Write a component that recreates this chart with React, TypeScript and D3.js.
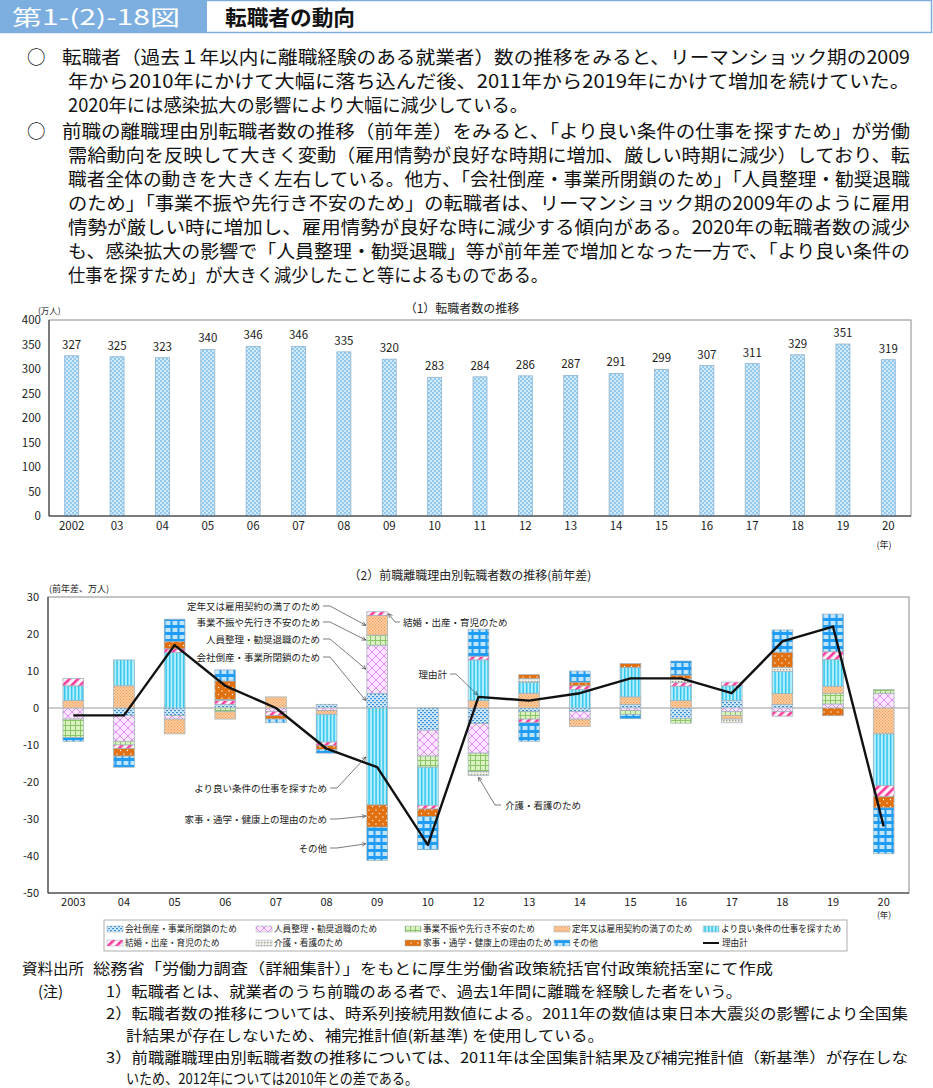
import * as d3 from 'd3';

// (1) 転職者数の推移
const years1 = ['2002', '03', '04', '05', '06', '07', '08', '09', '10', '11', '12', '13', '14', '15', '16', '17', '18', '19', '20'];
const changers = [327, 325, 323, 340, 346, 346, 335, 320, 283, 284, 286, 287, 291, 299, 307, 311, 329, 351, 319];
const yTicks1 = [0, 50, 100, 150, 200, 250, 300, 350, 400];

// (2) 前職離職理由別転職者数の推移（前年差）
const years2 = ['2003', '04', '05', '06', '07', '08', '09', '10', '12', '13', '14', '15', '16', '17', '18', '19', '20'];
const kaisha = [0, -2, -2, 1, 0, 1, 4, -6, -4.2, -1, -1, 1, -2.8, 2, 1, 0, 0];
const jinin = [-3, -7, -1, 0, -1, -0.7, 13, -7, -8, 0, -2, -0.7, 0, -1, -1, 1.1, 4];
const fushin = [-5, -1, 0, -1, 0, 0, 2.7, -3, -5, -2, 0, -1, -1.3, -1, 0, 2.9, 1];
const teinen = [2, 6, -4, -2, 3, -1, 5.3, 0, 2, 4, -2, 2, 2, -1, 2.9, 1.9, -7];
const yoriyoi = [4, 7, 15, 0, 0, -7.5, -26.2, -10.3, 11, 3, 5, 8, 3.9, 4, 6, 7.2, -14];
const kekkon = [2, -1, 1, 1, -1, -1, 1, -1, 1, -1, 1, 0, 1, 1, -1.2, 2.1, -3];
const kaigo = [0, 0, 0, 0.3, 0, 0, 0, 0, -1, 1, 0, 0, 1, -1, 1.1, 0, 0];
const kaji = [0, -2, 2, 5, -1, -1, -6, -2, 0, 1, 1, 1, 1, 0, 4.1, -2.1, -3];
const sonota = [-1, -3, 6, 3, -1, -1, -9, -9, 7.3, -5, 3, -1.2, 3.8, 0, 6, 10.2, -12.4];
const reasonTotal = [-2, -2, 17, 6, 0, -11, -16, -37, 3, 2, 4, 8, 8, 4, 18, 22, -32];
const yTicks2 = [30, 20, 10, 0, -10, -20, -30, -40, -50];

const seriesNames = [
  '会社倒産・事業所閉鎖のため',
  '人員整理・勧奨退職のため',
  '事業不振や先行き不安のため',
  '定年又は雇用契約の満了のため',
  'より良い条件の仕事を探すため',
  '結婚・出産・育児のため',
  '介護・看護のため',
  '家事・通学・健康上の理由のため',
  'その他',
];
const seriesValues = [kaisha, jinin, fushin, teinen, yoriyoi, kekkon, kaigo, kaji, sonota];

const FONT = "'Noto Sans CJK JP', 'Noto Sans', sans-serif";

const paraLines = [
  { mark: true, x: 62, len: 848, t: '転職者（過去１年以内に離職経験のある就業者）数の推移をみると、リーマンショック期の2009' },
  { mark: false, x: 68, len: 842, t: '年から2010年にかけて大幅に落ち込んだ後、2011年から2019年にかけて増加を続けていた。' },
  { mark: false, x: 68, len: 460, t: '2020年には感染拡大の影響により大幅に減少している。' },
  { mark: true, x: 62, len: 848, t: '前職の離職理由別転職者数の推移（前年差）をみると、「より良い条件の仕事を探すため」が労働' },
  { mark: false, x: 68, len: 842, t: '需給動向を反映して大きく変動（雇用情勢が良好な時期に増加、厳しい時期に減少）しており、転' },
  { mark: false, x: 68, len: 842, t: '職者全体の動きを大きく左右している。他方、「会社倒産・事業所閉鎖のため」「人員整理・勧奨退職' },
  { mark: false, x: 68, len: 842, t: 'のため」「事業不振や先行き不安のため」の転職者は、リーマンショック期の2009年のように雇用' },
  { mark: false, x: 68, len: 842, t: '情勢が厳しい時に増加し、雇用情勢が良好な時に減少する傾向がある。2020年の転職者数の減少' },
  { mark: false, x: 68, len: 842, t: 'も、感染拡大の影響で「人員整理・勧奨退職」等が前年差で増加となった一方で、「より良い条件の' },
  { mark: false, x: 68, len: 480, t: '仕事を探すため」が大きく減少したこと等によるものである。' },
];
const paraBase = [64, 88, 112, 138, 162, 186, 210, 234, 258, 282];

function Patterns() {
  return (
    <defs>
      <pattern id="pTop" width="4" height="4" patternUnits="userSpaceOnUse">
        <rect width="4" height="4" fill="#d3ebfb" />
        <path d="M0 1 L1 0 L2 1 L1 2 Z M2 3 L3 2 L4 3 L3 4 Z" fill="#4ea6e4" />
      </pattern>
      <pattern id="p0" width="4" height="4" patternUnits="userSpaceOnUse">
        <rect width="4" height="4" fill="#cfe9fb" />
        <rect x="0" y="0" width="2" height="1.2" fill="#3a8fd8" />
        <rect x="2" y="2" width="2" height="1.2" fill="#3a8fd8" />
      </pattern>
      <pattern id="p1" width="8" height="8" patternUnits="userSpaceOnUse">
        <rect width="8" height="8" fill="#fbe4fd" />
        <path d="M0 0 L8 8 M8 0 L0 8" stroke="#d27be0" strokeWidth="0.8" />
      </pattern>
      <pattern id="p2" width="5" height="5" patternUnits="userSpaceOnUse">
        <rect width="5" height="5" fill="#daf2bf" />
        <path d="M0 0.5 H5 M0.5 0 V5" stroke="#8cc46a" strokeWidth="1" />
      </pattern>
      <pattern id="p3" width="3" height="3" patternUnits="userSpaceOnUse">
        <rect width="3" height="3" fill="#fdd1a8" />
        <rect x="0" y="0" width="1.2" height="1.2" fill="#f19a52" />
        <rect x="1.5" y="1.5" width="1.2" height="1.2" fill="#f19a52" />
      </pattern>
      <pattern id="p4" width="3.5" height="4" patternUnits="userSpaceOnUse">
        <rect width="3.5" height="4" fill="#b6f0ff" />
        <rect x="1" y="0" width="1.3" height="4" fill="#19bde9" />
      </pattern>
      <pattern id="p5" width="6" height="6" patternUnits="userSpaceOnUse" patternTransform="rotate(45)">
        <rect width="6" height="6" fill="#fff3f9" />
        <rect x="0" y="0" width="2.6" height="6" fill="#ff3a9e" />
      </pattern>
      <pattern id="p6" width="3" height="3" patternUnits="userSpaceOnUse">
        <rect width="3" height="3" fill="#eeeee6" />
        <rect x="0" y="0" width="1.3" height="1.3" fill="#989888" />
      </pattern>
      <pattern id="p7" width="7" height="7" patternUnits="userSpaceOnUse">
        <rect width="7" height="7" fill="#e2700f" />
        <circle cx="1.5" cy="1.5" r="0.7" fill="#fff" />
        <circle cx="5" cy="5" r="0.7" fill="#fff" />
      </pattern>
      <pattern id="p8" width="7" height="7" patternUnits="userSpaceOnUse">
        <rect width="7" height="7" fill="#bfe5ff" />
        <path d="M2.5 0 H4.5 V2 H7 V5 H4.5 V7 H2.5 V5 H0 V2 H2.5 Z" fill="#1f9cf3" />
      </pattern>
      <marker id="arr" viewBox="0 0 10 10" refX="9" refY="5" markerWidth="7" markerHeight="7" orient="auto">
        <path d="M1 1 L9 5 L1 9" fill="none" stroke="#333" strokeWidth="1.2" />
      </marker>
    </defs>
  );
}

function TopChart() {
  const x = d3.scaleBand().domain(years1).range([49, 911]).padding(0);
  const y = d3.scaleLinear().domain([0, 400]).range([516, 320]);
  const bw = 14;
  return (
    <g fontFamily={FONT}>
      <text x={462} y={313} fontSize={12} textAnchor="middle" fill="#222">（1）転職者数の推移</text>
      <text x={38} y={314} fontSize={8.5} fill="#222">(万人)</text>
      <rect x={49} y={320} width={862} height={196} fill="none" stroke="#8a8a8a" />
      {yTicks1.map((t) => (
        <text key={t} x={41} y={y(t) + 4} fontSize={11.5} textAnchor="end" fill="#222">{t}</text>
      ))}
      {years1.map((yr, i) => {
        const cx = x(yr)! + x.bandwidth() / 2;
        return (
          <g key={yr}>
            <rect x={cx - bw / 2} y={y(changers[i])} width={bw} height={y(0) - y(changers[i])} fill="url(#pTop)" stroke="#8fb4d0" strokeWidth={0.8} />
            <text x={cx} y={y(changers[i]) - 7} fontSize={11.5} textAnchor="middle" fill="#222">{changers[i]}</text>
            <text x={cx} y={530} fontSize={11.5} textAnchor="middle" fill="#222">{yr}</text>
          </g>
        );
      })}
      <line x1={49} x2={49} y1={320} y2={516} stroke="#333" />
      <line x1={49} x2={911} y1={516} y2={516} stroke="#333" />
      <text x={884} y={548} fontSize={9} textAnchor="middle" fill="#222">(年)</text>
    </g>
  );
}

function BottomChart() {
  const x = d3.scaleBand().domain(years2).range([48, 909]).padding(0);
  const y = d3.scaleLinear().domain([-50, 30]).range([893, 597]);
  const bw = x.bandwidth() * 0.41;
  const keys = seriesNames.map((_, k) => 's' + k);
  const rows = years2.map((yr, i) => {
    const r: any = { year: yr };
    seriesValues.forEach((arr, k) => (r['s' + k] = arr[i]));
    return r;
  });
  const stacked = d3.stack().keys(keys).offset(d3.stackOffsetDiverging)(rows);
  const cx = (yr: string) => x(yr)! + x.bandwidth() / 2;
  const line = d3
    .line<number>()
    .x((_, i) => cx(years2[i]))
    .y((v) => y(v));

  // segment midpoints of the 2009 / 2012 bars for the leader lines
  const i09 = years2.indexOf('09');
  const i12 = years2.indexOf('12');
  const mid = (k: number, i: number) => y((stacked[k][i][0] + stacked[k][i][1]) / 2);
  const left09 = cx('09') - bw / 2;
  const right09 = cx('09') + bw / 2;

  const leftNotes = [
    { label: seriesNames[3], ly: 606, k: 3, end: 320 },
    { label: seriesNames[2], ly: 622, k: 2, end: 320 },
    { label: seriesNames[1], ly: 639, k: 1, end: 320 },
    { label: seriesNames[0], ly: 657, k: 0, end: 320 },
    { label: seriesNames[4], ly: 788, k: 4, end: 327 },
    { label: seriesNames[7], ly: 819, k: 7, end: 327 },
    { label: seriesNames[8], ly: 848, k: 8, end: 327 },
  ];

  return (
    <g fontFamily={FONT}>
      <text x={470} y={580} fontSize={12} textAnchor="middle" fill="#222">（2）前職離職理由別転職者数の推移(前年差)</text>
      <text x={49} y={592} fontSize={9} fill="#222">(前年差、万人)</text>
      <rect x={48} y={597} width={861} height={296} fill="none" stroke="#8a8a8a" />
      {yTicks2.map((t) => (
        <text key={t} x={39} y={y(t) + 4} fontSize={11} textAnchor="end" fill="#222">{t}</text>
      ))}
      <line x1={48} x2={909} y1={y(0)} y2={y(0)} stroke="#9a9a9a" strokeWidth={1} />
      {stacked.map((layer, k) => (
        <g key={k}>
          {layer.map((d, i) => {
            if (Math.abs(d[1] - d[0]) < 0.01) return null;
            const top = y(Math.max(d[0], d[1]));
            const bot = y(Math.min(d[0], d[1]));
            return (
              <rect key={i} x={cx(years2[i]) - bw / 2} y={top} width={bw} height={bot - top} fill={`url(#p${k})`} stroke="#9fb0ba" strokeWidth={0.7} />
            );
          })}
        </g>
      ))}
      <path d={line(reasonTotal)!} fill="none" stroke="#111" strokeWidth={2.4} strokeLinejoin="round" />
      {years2.map((yr) => (
        <text key={yr} x={cx(yr)} y={906} fontSize={11} textAnchor="middle" fill="#222">{yr}</text>
      ))}
      <line x1={48} x2={48} y1={597} y2={893} stroke="#333" />
      <line x1={48} x2={909} y1={893} y2={893} stroke="#333" />
      <text x={884} y={918} fontSize={8.5} textAnchor="middle" fill="#222">(年)</text>

      {leftNotes.map((n) => {
        const ty = n.k === 4 ? y(stacked[4][i09][1]) + 49 : mid(n.k, i09);
        return (
          <g key={n.label}>
            <text x={n.end} y={n.ly + 3.5} fontSize={9.5} textAnchor="end" fill="#222">{n.label}</text>
            <path d={`M${n.end + 3} ${n.ly} H${n.end + 10} L${left09 - 1} ${ty}`} fill="none" stroke="#444" strokeWidth={0.7} markerEnd="url(#arr)" />
          </g>
        );
      })}
      <text x={403} y={626} fontSize={9.5} fill="#222">{seriesNames[5]}</text>
      <path d={`M400 622 H395 L${right09 + 1} ${mid(5, i09)}`} fill="none" stroke="#444" strokeWidth={0.7} markerEnd="url(#arr)" />
      <text x={447} y={677.5} fontSize={9.5} textAnchor="end" fill="#222">理由計</text>
      <path d={`M450 674 H456 L${cx('12') - 1} ${y(reasonTotal[i12]) - 2}`} fill="none" stroke="#444" strokeWidth={0.7} markerEnd="url(#arr)" />
      <text x={505} y={808.5} fontSize={9.5} fill="#222">{seriesNames[6]}</text>
      <path d={`M501 805 H495 L${cx('12')} ${y(stacked[6][i12][0]) + 2}`} fill="none" stroke="#444" strokeWidth={0.7} markerEnd="url(#arr)" />

      {/* legend */}
      <rect x={104} y={920} width={743} height={31} fill="#fff" stroke="#999" strokeWidth={0.8} />
      {seriesNames.map((nm, k) => {
        const col = k < 5 ? k : k - 5;
        const row = k < 5 ? 0 : 1;
        const lx = 107 + col * 149;
        const ly = 929 + row * 14;
        return (
          <g key={nm}>
            <rect x={lx} y={ly - 3} width={16} height={6} fill={`url(#p${k})`} stroke="#9fb0ba" strokeWidth={0.5} />
            <text x={lx + 18} y={ly + 3} fontSize={8.6} fill="#222">{nm}</text>
          </g>
        );
      })}
      <line x1={703} x2={719} y1={943} y2={943} stroke="#111" strokeWidth={2} />
      <text x={722} y={946} fontSize={8.6} fill="#222">理由計</text>
    </g>
  );
}

export default function App() {
  return (
    <svg width={933} height={1088} style={{ position: 'absolute', left: 0, top: 0, background: '#fff' }} fontFamily={FONT}>
      <Patterns />
      <rect x={0} y={0} width={933} height={1088} fill="#fff" />
      {/* header */}
      <rect x={0.5} y={0.5} width={931} height={32} fill="#fff" stroke="#7cafe0" strokeWidth={1.5} />
      <rect x={0} y={0} width={207} height={33} fill="#7cafe0" />
      <text x={12} y={25} fontSize={21} fill="#fff" textLength={168} lengthAdjust="spacingAndGlyphs">第1-(2)-18図</text>
      <text x={225} y={25} fontSize={21} fontWeight="bold" fill="#111" textLength={130} lengthAdjust="spacingAndGlyphs">転職者の動向</text>

      {/* paragraph */}
      {paraLines.map((l, i) => (
        <g key={i}>
          {l.mark && <text x={27} y={paraBase[i]} fontSize={18.5} fill="#111">○</text>}
          <text x={l.x} y={paraBase[i]} fontSize={18.5} fill="#111" textLength={l.len} lengthAdjust="spacingAndGlyphs">{l.t}</text>
        </g>
      ))}

      <TopChart />
      <BottomChart />

      {/* notes */}
      <g fontSize={15} fill="#111">
        <text x={22} y={974} textLength={62} lengthAdjust="spacingAndGlyphs">資料出所</text>
        <text x={93} y={974} textLength={680} lengthAdjust="spacingAndGlyphs">総務省「労働力調査（詳細集計）」をもとに厚生労働省政策統括官付政策統括室にて作成</text>
        <text x={38} y={997}>(注)</text>
        <text x={106} y={997} textLength={636} lengthAdjust="spacingAndGlyphs">1）転職者とは、就業者のうち前職のある者で、過去1年間に離職を経験した者をいう。</text>
        <text x={106} y={1019} textLength={802} lengthAdjust="spacingAndGlyphs">2）転職者数の推移については、時系列接続用数値による。2011年の数値は東日本大震災の影響により全国集</text>
        <text x={126} y={1041} textLength={478} lengthAdjust="spacingAndGlyphs">計結果が存在しないため、補完推計値(新基準) を使用している。</text>
        <text x={106} y={1063} textLength={802} lengthAdjust="spacingAndGlyphs">3）前職離職理由別転職者数の推移については、2011年は全国集計結果及び補完推計値（新基準）が存在しな</text>
        <text x={126} y={1084} textLength={292} lengthAdjust="spacingAndGlyphs">いため、2012年については2010年との差である。</text>
      </g>
    </svg>
  );
}
